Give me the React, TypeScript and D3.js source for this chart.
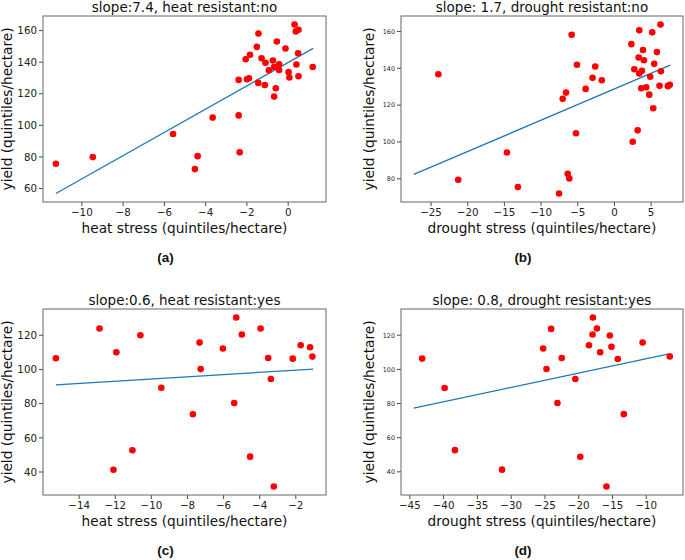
import React from "react";
import * as d3 from "d3";

// ---- data ----
const heatNoX = [-11.26, -9.47, -5.58, -4.39, -4.52, -3.66, -2.40, -2.35, -2.40, -2.0, -1.9, -2.06, -1.85, -1.52, -1.44, -1.45, -1.29, -1.10, -1.13, -0.94, -0.74, -0.68, -0.55, -0.60, -0.68, -0.44, -0.44, -0.13, 0.02, 0.06, 0.31, 0.37, 0.50, 0.48, 0.40, 0.50, 1.19];
const heatNoY = [75.7, 79.9, 94.5, 80.5, 72.3, 104.9, 106.3, 82.9, 128.8, 129.2, 129.8, 141.9, 144.7, 149.7, 158.2, 126.9, 142.5, 139.6, 125.6, 134.9, 141.1, 137.0, 153.1, 123.5, 118.2, 138.7, 135.1, 148.7, 133.7, 130.3, 163.9, 159.5, 160.5, 145.7, 138.5, 131.1, 137.0];

const droughtNoX = [-24.0, -21.3, -14.65, -13.16, -7.55, -7.05, -6.60, -6.37, -6.15, -5.83, -5.24, -5.11, -3.93, -2.98, -2.62, -1.72, 2.31, 2.49, 2.71, 3.16, 3.30, 3.39, 3.39, 3.75, 3.66, 3.89, 4.02, 4.34, 4.75, 4.88, 5.15, 5.29, 5.42, 5.79, 6.15, 6.28, 6.33, 7.28, 7.55];
const droughtNoY = [136.8, 79.5, 94.3, 75.5, 72.0, 123.4, 126.8, 82.7, 80.2, 158.2, 104.7, 141.9, 128.8, 134.8, 141.0, 133.5, 153.1, 100.1, 139.5, 106.3, 145.9, 160.6, 137.2, 138.6, 129.2, 149.9, 144.4, 129.7, 125.7, 135.4, 159.5, 118.3, 142.4, 148.8, 130.5, 163.8, 138.4, 130.3, 131.0];

const heatYesX = [-15.29, -12.87, -11.94, -12.10, -11.05, -10.61, -9.45, -7.70, -7.33, -7.27, -6.04, -5.41, -5.30, -4.99, -4.53, -3.95, -3.53, -3.38, -3.22, -2.17, -1.73, -1.21, -1.08];
const heatYesY = [106.5, 123.9, 110.0, 41.3, 52.7, 120.0, 89.3, 73.8, 115.7, 100.2, 112.2, 80.3, 130.4, 120.4, 49.0, 123.9, 106.7, 94.4, 31.5, 106.3, 114.1, 113.0, 107.5];

const droughtYesX = [-43.18, -39.85, -38.32, -31.35, -25.26, -24.77, -24.09, -23.15, -22.52, -20.50, -19.77, -18.49, -17.95, -17.90, -17.31, -16.82, -15.89, -15.40, -15.15, -14.22, -13.33, -10.54, -6.51];
const droughtYesY = [106.3, 89.1, 52.7, 41.3, 112.2, 100.2, 123.7, 80.3, 106.7, 94.4, 48.8, 114.1, 120.4, 130.4, 123.9, 110.0, 31.4, 119.8, 113.2, 106.1, 73.8, 115.7, 107.5];

// fitted lines: slope, intercept, x range
const fitSlope = [7.37, 1.697, 0.646, 0.8406];
const fitIntercept = [139.8, 128.8, 100.87, 114.63];
const fitXStart = [-11.26, -27.35, -15.29, -44.41];
const fitXEnd = [1.21, 7.6, -1.04, -6.46];

const titles = [
  "slope:7.4, heat resistant:no",
  "slope: 1.7, drought resistant:no",
  "slope:0.6, heat resistant:yes",
  "slope: 0.8, drought resistant:yes",
];
const xLabels = [
  "heat stress (quintiles/hectare)",
  "drought stress (quintiles/hectare)",
  "heat stress (quintiles/hectare)",
  "drought stress (quintiles/hectare)",
];
const yLabel = "yield (quintiles/hectare)";
const panelTags = ["(a)", "(b)", "(c)", "(d)"];
const xTickVals = [
  [-10, -8, -6, -4, -2, 0],
  [-25, -20, -15, -10, -5, 0, 5],
  [-14, -12, -10, -8, -6, -4, -2],
  [-45, -40, -35, -30, -25, -20, -15, -10],
];
const yTickVals = [
  [60, 80, 100, 120, 140, 160],
  [80, 100, 120, 140, 160],
  [40, 60, 80, 100, 120],
  [40, 60, 80, 100, 120],
];

const seriesX = [heatNoX, droughtNoX, heatYesX, droughtYesX];
const seriesY = [heatNoY, droughtNoY, heatYesY, droughtYesY];

// layout
const boxes = [
  { l: 43, r: 326, t: 16, b: 202, ytf: 10.3, ylx: 31 },
  { l: 401, r: 683, t: 16, b: 202, ytf: 6.4, ylx: 27 },
  { l: 43, r: 326, t: 309, b: 495, ytf: 10.3, ylx: 31 },
  { l: 401, r: 683, t: 309, b: 495, ytf: 6.4, ylx: 27 },
];

const FONT = "'DejaVu Sans', sans-serif";
const fmt = (v: number) => (v < 0 ? "\u2212" + Math.abs(v) : String(v));

function Panel({ i }: { i: number }) {
  const bx = boxes[i];
  const xs = seriesX[i];
  const ys = seriesY[i];
  const lx = [fitXStart[i], fitXEnd[i]];
  const ly = lx.map((x) => fitSlope[i] * x + fitIntercept[i]);
  const allX = xs.concat(lx);
  const allY = ys.concat(ly);
  const [x0, x1] = d3.extent(allX) as [number, number];
  const [y0, y1] = d3.extent(allY) as [number, number];
  const px = (x1 - x0) * 0.05;
  const py = (y1 - y0) * 0.05;
  const xScale = d3.scaleLinear().domain([x0 - px, x1 + px]).range([bx.l, bx.r]);
  const yScale = d3.scaleLinear().domain([y0 - py, y1 + py]).range([bx.b, bx.t]);
  const line = d3
    .line<number>()
    .x((d) => xScale(d))
    .y((d, k) => yScale(ly[k]));
  const cx = (bx.l + bx.r) / 2;
  const cy = (bx.t + bx.b) / 2;
  return (
    <g>
      <text x={cx} y={bx.t - 3.8} textAnchor="middle" fontFamily={FONT} fontSize={13.5} fill="#111">
        {titles[i]}
      </text>
      {xTickVals[i].map((v) => (
        <g key={"x" + v}>
          <line x1={xScale(v)} x2={xScale(v)} y1={bx.b} y2={bx.b + 4} stroke="#333" strokeWidth={0.9} />
          <text x={xScale(v)} y={bx.b + 13.6} textAnchor="middle" fontFamily={FONT} fontSize={10.3} fill="#222">
            {fmt(v)}
          </text>
        </g>
      ))}
      {yTickVals[i].map((v) => (
        <g key={"y" + v}>
          <line x1={bx.l - 4} x2={bx.l} y1={yScale(v)} y2={yScale(v)} stroke="#333" strokeWidth={0.9} />
          <text
            x={bx.l - 6}
            y={yScale(v) + bx.ytf * 0.36}
            textAnchor="end"
            fontFamily={FONT}
            fontSize={bx.ytf}
            fill="#222"
          >
            {fmt(v)}
          </text>
        </g>
      ))}
      <path d={line(lx) || ""} fill="none" stroke="#1f77b4" strokeWidth={1.3} />
      {xs.map((x, k) => (
        <circle key={k} cx={xScale(x)} cy={yScale(ys[k])} r={3.3} fill="#ff0000" />
      ))}
      <rect x={bx.l} y={bx.t} width={bx.r - bx.l} height={bx.b - bx.t} fill="none" stroke="#666" strokeWidth={1} />
      <text x={cx} y={bx.b + 31} textAnchor="middle" fontFamily={FONT} fontSize={13.7} fill="#111">
        {xLabels[i]}
      </text>
      <text
        transform={`translate(${bx.l - bx.ylx},${cy}) rotate(-90)`}
        textAnchor="middle"
        fontFamily={FONT}
        fontSize={13.7}
        fill="#111"
      >
        {yLabel}
      </text>
      <text
        x={cx - 19}
        y={bx.b + 59.5}
        textAnchor="middle"
        fontFamily="'Liberation Sans', Arial, sans-serif"
        fontWeight="bold"
        fontSize={13.5}
        fill="#111"
      >
        {panelTags[i]}
      </text>
    </g>
  );
}

export default function App() {
  return (
    <svg
      width={685}
      height={560}
      style={{ position: "absolute", left: 0, top: 0, background: "#fff" }}
    >
      <rect width={685} height={560} fill="#fff" />
      {[0, 1, 2, 3].map((i) => (
        <Panel key={i} i={i} />
      ))}
    </svg>
  );
}
